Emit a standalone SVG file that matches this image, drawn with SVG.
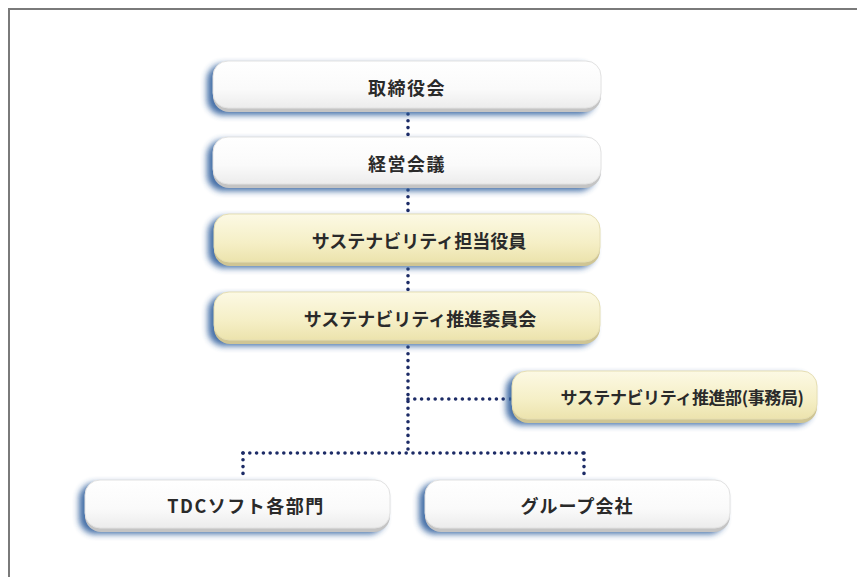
<svg xmlns="http://www.w3.org/2000/svg" width="857" height="577" viewBox="0 0 857 577">
  <defs>
    <filter id="sh" x="-10%" y="-40%" width="120%" height="180%">
      <feGaussianBlur stdDeviation="3"/>
    </filter>
    <linearGradient id="gw" x1="0" y1="0" x2="0" y2="1">
      <stop offset="0" stop-color="#ffffff"/>
      <stop offset="0.6" stop-color="#fafafa"/>
      <stop offset="1" stop-color="#ececec"/>
    </linearGradient>
    <linearGradient id="gy" x1="0" y1="0" x2="0" y2="1">
      <stop offset="0" stop-color="#fcf9e4"/>
      <stop offset="0.6" stop-color="#f5efc6"/>
      <stop offset="1" stop-color="#ece3ad"/>
    </linearGradient>
  </defs>
  <style>
    .shadow { fill: #30609e; opacity: 0.9; filter: url(#sh); }
    .edgew { fill: #c4c4c4; }
    .edgey { fill: #cfc594; }
    .facew { fill: url(#gw); stroke: #e2e2e2; stroke-width: 1; }
    .facey { fill: url(#gy); stroke: #e6dfb4; stroke-width: 1; }
    .lbl { font-family: "Noto Sans CJK JP", "Noto Sans", sans-serif; font-weight: bold; font-size: 18px; fill: #2a2a2a; text-anchor: middle; dominant-baseline: central; }
    .lbl.sm { font-size: 17px; letter-spacing: -0.4px; }
    .dot { fill: none; stroke: #1c2b66; stroke-width: 3.6; stroke-linecap: round; stroke-dasharray: 0 6.8; }
    .frame { stroke: #7a7a7a; stroke-width: 2; fill: none; }
  </style>
  <rect width="857" height="577" fill="#ffffff"/>
  <path class="frame" d="M9,577 V9 H857"/>

  <g id="connectors">
    <line class="dot" x1="408" y1="114" x2="408" y2="137"/>
    <line class="dot" x1="408" y1="190" x2="408" y2="214"/>
    <line class="dot" x1="408" y1="269" x2="408" y2="292"/>
    <line class="dot" x1="408" y1="347" x2="408" y2="453"/>
    <line class="dot" x1="408" y1="399" x2="510" y2="399"/>
    <line class="dot" x1="243" y1="453" x2="584" y2="453"/>
    <line class="dot" x1="243" y1="453" x2="243" y2="478"/>
    <line class="dot" x1="584" y1="453" x2="584" y2="478"/>
  </g>

  <g id="n1">
    <rect class="shadow" x="207" y="64" width="388" height="51" rx="16"/>
    <rect class="edgew" x="213" y="61" width="388" height="51" rx="16"/>
    <rect class="facew" x="213" y="61" width="388" height="47" rx="15"/>
    <text class="lbl" x="407" y="87" letter-spacing="1.5">取締役会</text>
  </g>
  <g id="n2">
    <rect class="shadow" x="207" y="140" width="388" height="51" rx="16"/>
    <rect class="edgew" x="213" y="137" width="388" height="51" rx="16"/>
    <rect class="facew" x="213" y="137" width="388" height="47" rx="15"/>
    <text class="lbl" x="407" y="163" letter-spacing="1.5">経営会議</text>
  </g>
  <g id="n3">
    <rect class="shadow" x="208" y="217" width="387" height="51" rx="16"/>
    <rect class="edgey" x="214" y="214" width="386" height="52" rx="16"/>
    <rect class="facey" x="214" y="214" width="386" height="48" rx="15"/>
    <text class="lbl" x="419" y="240">サステナビリティ担当役員</text>
  </g>
  <g id="n4">
    <rect class="shadow" x="208" y="295" width="387" height="51" rx="16"/>
    <rect class="edgey" x="214" y="292" width="386" height="52" rx="16"/>
    <rect class="facey" x="214" y="292" width="386" height="48" rx="15"/>
    <text class="lbl" x="420" y="318">サステナビリティ推進委員会</text>
  </g>
  <g id="n5">
    <rect class="shadow" x="506" y="374" width="306" height="51" rx="16"/>
    <rect class="edgey" x="512" y="371" width="305" height="52" rx="16"/>
    <rect class="facey" x="512" y="371" width="305" height="48" rx="15"/>
    <text class="lbl sm" x="682" y="396">サステナビリティ推進部(事務局)</text>
  </g>
  <g id="n6">
    <rect class="shadow" x="79" y="483" width="306" height="51" rx="16"/>
    <rect class="edgew" x="85" y="480" width="305" height="52" rx="16"/>
    <rect class="facew" x="85" y="480" width="305" height="48" rx="15"/>
    <text class="lbl" x="246" y="505" letter-spacing="1.5">TDCソフト各部門</text>
  </g>
  <g id="n7">
    <rect class="shadow" x="419" y="483" width="306" height="51" rx="16"/>
    <rect class="edgew" x="425" y="480" width="305" height="52" rx="16"/>
    <rect class="facew" x="425" y="480" width="305" height="48" rx="15"/>
    <text class="lbl" x="577" y="505" letter-spacing="1">グループ会社</text>
  </g>
</svg>
